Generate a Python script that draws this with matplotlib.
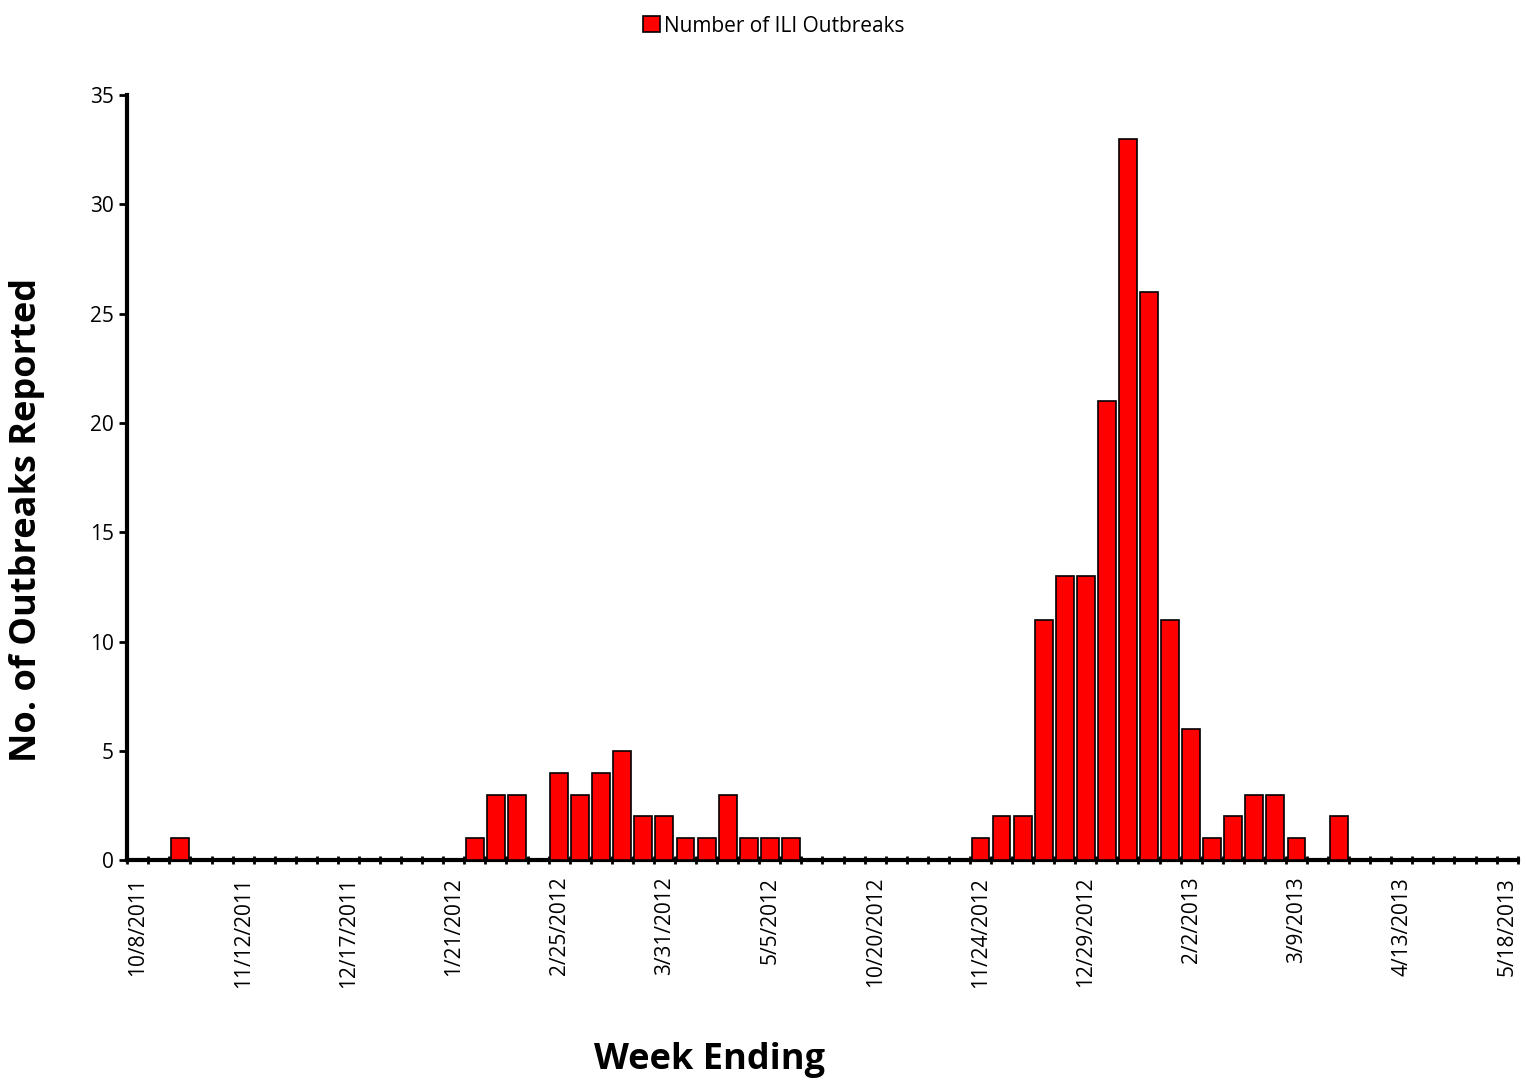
import numpy as np
import matplotlib.pyplot as plt

plt.rcParams['font.family'] = ['Open Sans', 'DejaVu Sans']

# 66 weekly categories (summer 2012 weeks not shown)
outbreaks = [0, 0, 1, 0, 0, 0, 0, 0, 0, 0,
             0, 0, 0, 0, 0, 0, 1, 3, 3, 0,
             4, 3, 4, 5, 2, 2, 1, 1, 3, 1,
             1, 1, 0, 0, 0, 0, 0, 0, 0, 0,
             1, 2, 2, 11, 13, 13, 21, 33, 26, 11,
             6, 1, 2, 3, 3, 1, 0, 2, 0, 0,
             0, 0, 0, 0, 0, 0]
tick_labels = ['10/8/2011', '11/12/2011', '12/17/2011', '1/21/2012', '2/25/2012',
               '3/31/2012', '5/5/2012', '10/20/2012', '11/24/2012', '12/29/2012',
               '2/2/2013', '3/9/2013', '4/13/2013', '5/18/2013']

x = np.arange(len(outbreaks))
fig = plt.figure(figsize=(15.33, 10.82), dpi=100)
ax = fig.add_axes([0.083, 0.205, 0.907, 0.707])
ax.bar(x, outbreaks, width=0.85, color='#ff0000', edgecolor='black', linewidth=1.2,
       label='Number of ILI Outbreaks', zorder=3)

ax.set_xlim(-0.5, len(outbreaks) - 0.5)
ax.set_ylim(0, 35)
ax.set_yticks(range(0, 36, 5))
ax.set_xticks(x[::5])
ax.set_xticklabels(tick_labels, rotation=90, fontsize=15)
ax.set_xticks(np.arange(-0.5, len(outbreaks), 1), minor=True)
ax.tick_params(axis='x', which='major', length=0, pad=12)
ax.tick_params(axis='x', which='minor', length=6, width=2, direction='inout')
ax.tick_params(axis='y', labelsize=15, length=6, width=2, direction='out')

for s in ['top', 'right']:
    ax.spines[s].set_visible(False)
for s in ['left', 'bottom']:
    ax.spines[s].set_linewidth(3)

fig.text(710 / 1533, 1 - 1060 / 1082, 'Week Ending', fontsize=26, fontweight='bold',
         ha='center', va='center')
fig.text(27 / 1533, 1 - 520 / 1082, 'No. of Outbreaks Reported', fontsize=26,
         fontweight='bold', rotation=90, ha='center', va='center')

fig.legend(loc='upper center', bbox_to_anchor=(0.505, 1.003), frameon=False, fontsize=15,
           handlelength=0.8, handleheight=0.8, handletextpad=0.2)

fig.savefig('out.png')
